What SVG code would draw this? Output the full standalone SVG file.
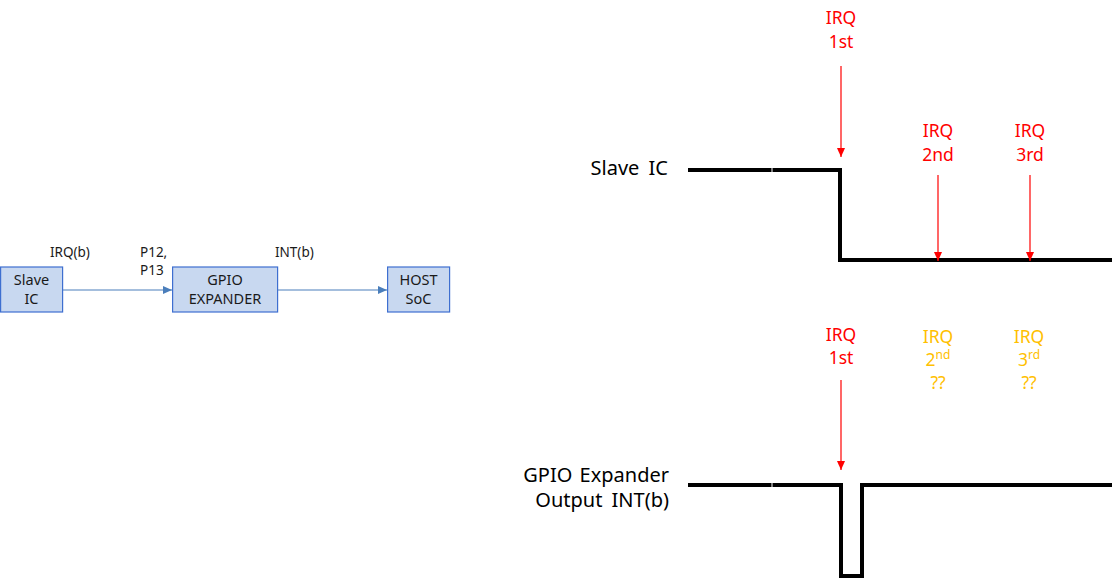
<svg xmlns="http://www.w3.org/2000/svg" width="1116" height="579" viewBox="0 0 1116 579">
<defs>
<style>
.t{font-family:"Noto Sans","Liberation Sans",sans-serif;}
.box{fill:#C8D8F0;stroke:#3E6FD0;stroke-width:1.2;}
.bl{font-size:14.5px;fill:#1a1a1a;text-anchor:middle;}
.sm{font-size:13.5px;fill:#1a1a1a;}
.big{font-size:20px;fill:#000;text-anchor:end;}
.red{font-size:17.5px;fill:#FF0000;text-anchor:middle;}
.org{font-size:17.5px;fill:#FFC000;text-anchor:middle;}
.wave{fill:none;stroke:#000;stroke-width:4;}
.conn{stroke:#4A7EBB;stroke-width:1.2;fill:none;}
.rarr{stroke:#FF0000;stroke-width:1.2;fill:none;}
</style>
<marker id="ab" markerWidth="10" markerHeight="8" refX="9" refY="4" orient="auto" markerUnits="userSpaceOnUse">
<path d="M0,0 L9,4 L0,8 z" fill="#4A7EBB"/>
</marker>
<marker id="ar" markerWidth="8" markerHeight="10" refX="4" refY="9" orient="0" markerUnits="userSpaceOnUse">
<path d="M0,0 L8,0 L4,9 z" fill="#FF0000"/>
</marker>
</defs>
<rect width="1116" height="579" fill="#fff"/>

<g id="node-slave">
<rect class="box" x="0.6" y="267" width="62" height="45"/>
<text class="t bl" x="31.5" y="285">Slave</text>
<text class="t bl" x="31.5" y="304">IC</text>
</g>
<g id="node-gpio">
<rect class="box" x="172.6" y="267" width="105" height="45"/>
<text class="t bl" x="225" y="285">GPIO</text>
<text class="t bl" x="225" y="304">EXPANDER</text>
</g>
<g id="node-host">
<rect class="box" x="387.6" y="267" width="62" height="45"/>
<text class="t bl" x="418.5" y="285">HOST</text>
<text class="t bl" x="418.5" y="304">SoC</text>
</g>

<g id="connectors">
<line class="conn" x1="63" y1="290" x2="172" y2="290" marker-end="url(#ab)"/>
<line class="conn" x1="278" y1="290" x2="387" y2="290" marker-end="url(#ab)"/>
</g>

<g id="labels-left">
<text class="t sm" x="50" y="257">IRQ(b)</text>
<text class="t sm" x="140" y="257">P12,</text>
<text class="t sm" x="140" y="275">P13</text>
<text class="t sm" x="275" y="257">INT(b)</text>
</g>

<g id="slave-wave">
<text class="t big" x="668" y="175" style="word-spacing:4px">Slave IC</text>
<line class="wave" x1="688" y1="170" x2="771.5" y2="170"/>
<polyline class="wave" points="772.5,170 840,170 840,260 1112,260"/>
<line class="rarr" x1="841" y1="66" x2="841" y2="157" marker-end="url(#ar)"/>
<text class="t red" x="841" y="24">IRQ</text>
<text class="t red" x="841" y="48">1st</text>
<line class="rarr" x1="938" y1="175" x2="938" y2="261" marker-end="url(#ar)"/>
<text class="t red" x="938" y="137">IRQ</text>
<text class="t red" x="938" y="161">2nd</text>
<line class="rarr" x1="1030" y1="175" x2="1030" y2="261" marker-end="url(#ar)"/>
<text class="t red" x="1030" y="137">IRQ</text>
<text class="t red" x="1030" y="161">3rd</text>
</g>

<g id="gpio-wave">
<text class="t big" x="669" y="482" style="word-spacing:2px">GPIO Expander</text>
<text class="t big" x="669" y="507" style="word-spacing:4px">Output INT(b)</text>
<line class="wave" x1="688" y1="485" x2="771.5" y2="485"/>
<polyline class="wave" points="772.5,485 841,485 841,576 862,576 862,485 1112,485"/>
<line class="rarr" x1="841" y1="380" x2="841" y2="470" marker-end="url(#ar)"/>
<text class="t red" x="841" y="341">IRQ</text>
<text class="t red" x="841" y="364">1st</text>
<text class="t org" x="938" y="343">IRQ</text>
<text class="t org" x="938" y="366">2<tspan font-size="12" dy="-7">nd</tspan></text>
<text class="t org" x="938" y="389">??</text>
<text class="t org" x="1029" y="343">IRQ</text>
<text class="t org" x="1029" y="366">3<tspan font-size="12" dy="-7">rd</tspan></text>
<text class="t org" x="1029" y="389">??</text>
</g>
</svg>
